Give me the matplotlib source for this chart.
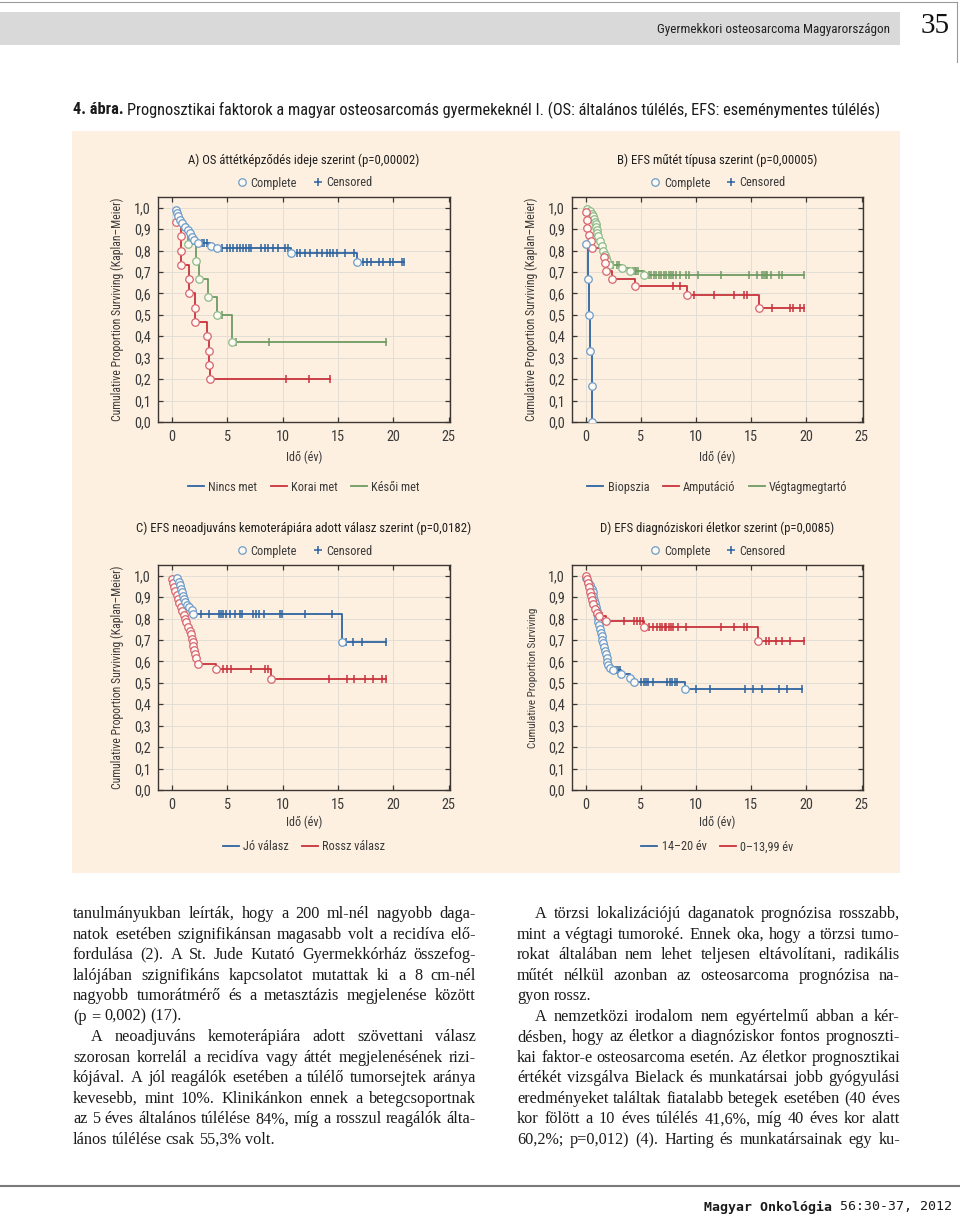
import matplotlib
matplotlib.use('Agg')
import matplotlib.pyplot as plt
import numpy as np
from matplotlib import font_manager as fm
from matplotlib.lines import Line2D
from matplotlib.patches import Rectangle
from matplotlib.ticker import FuncFormatter

# ---------------- data ----------------
xticks = [0, 5, 10, 15, 20, 25]
yticks = [0.0, 0.1, 0.2, 0.3, 0.4, 0.5, 0.6, 0.7, 0.8, 0.9, 1.0]

# A) OS by timing of metastasis
a_title = 'A) OS áttétképződés ideje szerint (p=0,00002)'
a_labels = ['Nincs met', 'Korai met', 'Késői met']
a_nincs_t = [0.4, 0.5, 0.6, 0.75, 0.95, 1.2, 1.45, 1.65, 1.85, 2.05, 2.35, 3.5, 4.05, 10.75, 16.75]
a_nincs_s = [0.99, 0.975, 0.96, 0.945, 0.93, 0.91, 0.895, 0.88, 0.865, 0.85, 0.835, 0.823, 0.812, 0.79, 0.749]
a_nincs_c = [2.7, 2.95, 3.2, 4.5, 4.95, 5.25, 5.55, 5.85, 6.15, 6.45, 6.7, 6.95, 7.2, 8.1, 8.4, 8.7, 9.1,
             9.6, 10.2, 10.5, 11.3, 11.6, 12.05, 12.5, 13.1, 13.55, 14.0, 14.3, 14.6, 14.95, 15.65,
             16.45, 17.3, 17.6, 17.95, 18.75, 19.05, 19.7, 20.0, 20.75, 20.95]
a_korai_t = [0.35, 0.84, 0.86, 0.88, 1.52, 1.54, 2.1, 2.12, 3.15, 3.38, 3.4, 3.42]
a_korai_s = [0.933, 0.867, 0.8, 0.733, 0.667, 0.6, 0.533, 0.467, 0.4, 0.333, 0.267, 0.2]
a_korai_c = [10.3, 12.4, 14.3]
a_kesoi_t = [1.15, 1.5, 2.15, 2.5, 3.3, 4.05, 5.45]
a_kesoi_s = [0.917, 0.833, 0.75, 0.667, 0.583, 0.5, 0.375]
a_kesoi_c = [4.5, 5.8, 8.8, 19.3]

# B) EFS by type of surgery
b_title = 'B) EFS műtét típusa szerint (p=0,00005)'
b_labels = ['Biopszia', 'Amputáció', 'Végtagmegtartó']
b_biop_t = [0.0, 0.25, 0.3, 0.36, 0.55, 0.6]
b_biop_s = [0.833, 0.667, 0.5, 0.333, 0.167, 0.0]
b_biop_c = []
b_amp_t = [0.0, 0.1, 0.15, 0.3, 0.45, 0.6, 1.7, 1.75, 1.8, 2.4, 4.5, 9.2, 15.7]
b_amp_s = [0.98, 0.945, 0.905, 0.875, 0.843, 0.81, 0.772, 0.74, 0.703, 0.668, 0.635, 0.594, 0.53]
b_amp_c = [7.9, 8.55, 9.85, 11.65, 13.45, 14.35, 14.65, 16.85, 18.55, 18.8, 19.45, 19.75]
b_vegt_t = [0.15, 0.4, 0.55, 0.7, 0.75, 0.85, 0.9, 0.95, 1.0, 1.05, 1.15, 1.3, 1.45, 1.6, 1.75,
            1.85, 1.95, 2.15, 3.25, 4.0, 5.3]
b_vegt_s = [0.995, 0.985, 0.972, 0.96, 0.947, 0.935, 0.922, 0.91, 0.897, 0.884, 0.87, 0.845, 0.82,
            0.8, 0.78, 0.765, 0.75, 0.733, 0.718, 0.703, 0.687]
b_vegt_c = [2.5, 2.8, 3.0, 4.3, 4.45, 4.6, 4.75, 5.75, 5.95, 6.15, 6.4, 6.65, 6.85, 7.05, 7.3, 7.55,
            7.75, 7.95, 8.2, 8.5, 9.1, 9.35, 10.2, 12.25, 14.75, 15.55, 16.0, 16.15, 16.3, 16.45,
            16.75, 17.5, 17.75, 19.75]

# C) EFS by response to neoadjuvant chemotherapy
c_title = 'C) EFS neoadjuváns kemoterápiára adott válasz szerint (p=0,0182)'
c_labels = ['Jó válasz', 'Rossz válasz']
c_jo_t = [0.5, 0.65, 0.75, 0.82, 0.9, 1.0, 1.1, 1.2, 1.4, 1.6, 1.8, 1.95, 15.35]
c_jo_s = [0.99, 0.972, 0.955, 0.94, 0.922, 0.907, 0.891, 0.876, 0.865, 0.852, 0.838, 0.82, 0.693]
c_jo_c = [2.6, 3.4, 4.3, 4.45, 4.6, 4.9, 5.25, 5.7, 6.15, 6.35, 7.35, 7.6, 7.9, 8.35, 9.8, 9.95,
          12.05, 14.45, 15.75, 16.4, 17.15, 19.35]
c_rossz_t = [0.0, 0.1, 0.2, 0.3, 0.45, 0.55, 0.65, 0.8, 0.95, 1.1, 1.2, 1.3, 1.5, 1.65, 1.75, 1.85,
             1.9, 1.95, 2.05, 2.1, 2.2, 2.4, 4.0, 8.95]
c_rossz_s = [0.985, 0.967, 0.948, 0.93, 0.911, 0.893, 0.874, 0.856, 0.837, 0.819, 0.8, 0.782, 0.763,
             0.744, 0.726, 0.707, 0.689, 0.67, 0.652, 0.633, 0.615, 0.589, 0.566, 0.52]
c_rossz_c = [4.6, 4.95, 5.35, 7.2, 8.45, 8.65, 14.2, 15.85, 16.45, 17.45, 18.15, 18.95, 19.35]

# D) EFS by age at diagnosis
d_title = 'D) EFS diagnóziskori életkor szerint (p=0,0085)'
d_labels = ['14–20 év', '0–13,99 év']
d_old_t = [0.0, 0.25, 0.4, 0.55, 0.63, 0.7, 0.76, 0.84, 0.92, 1.0, 1.05, 1.1, 1.15, 1.22, 1.28, 1.36,
           1.44, 1.52, 1.58, 1.65, 1.73, 1.82, 1.89, 1.95, 2.04, 2.2, 2.45, 3.2, 4.0, 4.35, 9.0]
d_old_s = [0.99, 0.973, 0.956, 0.939, 0.922, 0.905, 0.888, 0.871, 0.854, 0.837, 0.82, 0.803, 0.786,
           0.769, 0.752, 0.735, 0.718, 0.701, 0.684, 0.667, 0.65, 0.633, 0.616, 0.599, 0.582, 0.57,
           0.558, 0.543, 0.524, 0.505, 0.473]
d_old_c = [2.6, 2.75, 2.9, 3.1, 3.3, 5.05, 5.25, 5.45, 5.65, 6.1, 7.35, 7.6, 7.85, 8.05, 8.3, 10.0,
           11.3, 14.45, 15.2, 15.95, 17.5, 18.25, 19.6]
d_young_t = [0.0, 0.1, 0.2, 0.3, 0.4, 0.5, 0.57, 0.7, 0.85, 1.05, 1.25, 1.8, 5.25, 15.6]
d_young_s = [1.0, 0.985, 0.965, 0.946, 0.926, 0.907, 0.887, 0.868, 0.845, 0.825, 0.814, 0.787, 0.763, 0.697]
d_young_c = [1.5, 3.5, 4.4, 4.65, 4.9, 5.15, 5.75, 6.1, 6.45, 6.7, 6.95, 7.15, 7.3, 7.55, 7.75, 7.95,
             8.4, 9.1, 12.25, 13.45, 14.35, 14.65, 16.3, 16.6, 17.2, 17.8, 18.55, 19.75]

# page text
header_txt = 'Gyermekkori osteosarcoma Magyarországon'
page_no = '35'
cap_bold = '4. ábra.'
cap_rest = 'Prognosztikai faktorok a magyar osteosarcomás gyermekeknél I. (OS: általános túlélés, EFS: eseménymentes túlélés)'
left_col = [
    'tanulmányukban leírták, hogy a 200 ml-nél nagyobb daga-',
    'natok esetében szignifikánsan magasabb volt a recidíva elő-',
    'fordulása (2). A St. Jude Kutató Gyermekkórház összefog-',
    'lalójában szignifikáns kapcsolatot mutattak ki a 8 cm-nél',
    'nagyobb tumorátmérő és a metasztázis megjelenése között',
    '(p = 0,002) (17).',
    'A neoadjuváns kemoterápiára adott szövettani válasz',
    'szorosan korrelál a recidíva vagy áttét megjelenésének rizi-',
    'kójával. A jól reagálók esetében a túlélő tumorsejtek aránya',
    'kevesebb, mint 10%. Klinikánkon ennek a betegcsoportnak',
    'az 5 éves általános túlélése 84%, míg a rosszul reagálók álta-',
    'lános túlélése csak 55,3% volt.',
]
left_indent = [0, 0, 0, 0, 0, 0, 1, 0, 0, 0, 0, 0]
left_last = [0, 0, 0, 0, 0, 1, 0, 0, 0, 0, 0, 1]
right_col = [
    'A törzsi lokalizációjú daganatok prognózisa rosszabb,',
    'mint a végtagi tumoroké. Ennek oka, hogy a törzsi tumo-',
    'rokat általában nem lehet teljesen eltávolítani, radikális',
    'műtét nélkül azonban az osteosarcoma prognózisa na-',
    'gyon rossz.',
    'A nemzetközi irodalom nem egyértelmű abban a kér-',
    'désben, hogy az életkor a diagnóziskor fontos prognoszti-',
    'kai faktor-e osteosarcoma esetén. Az életkor prognosztikai',
    'értékét vizsgálva Bielack és munkatársai jobb gyógyulási',
    'eredményeket találtak fiatalabb betegek esetében (40 éves',
    'kor fölött a 10 éves túlélés 41,6%, míg 40 éves kor alatt',
    '60,2%; p=0,012) (4). Harting és munkatársainak egy ku-',
]
right_indent = [1, 0, 0, 0, 0, 1, 0, 0, 0, 0, 0, 0]
right_last = [0, 0, 0, 0, 1, 0, 0, 0, 0, 0, 0, 0]
foot_bold = 'Magyar Onkológia'
foot_rest = '56:30-37, 2012'

# ---------------- style ----------------
PANEL = '#fdf0e0'
SPINE = '#3b3631'
GRID = '#e4ddd4'
TXT = '#3a3a3a'
FILL = '#fffaf3'
BLUE, BLUE_M = '#2d64a0', '#6d9ccb'
RED, RED_M = '#c8323c', '#d8646e'
GREEN, GREEN_M = '#6f9a62', '#8cbc86'

# pick the narrowest sans that is installed
avail = fm.fontManager.ttflist
names = {f.name for f in avail}
SANS, STRETCH = 'Roboto', 'normal'
if 'Liberation Sans Narrow' in names:
    SANS = 'Liberation Sans Narrow'
elif 'Roboto Condensed' in names:
    SANS = 'Roboto Condensed'
else:
    done = False
    for want in ('condensed', 'semi-condensed'):
        for fam in ('Noto Sans', 'Open Sans', 'Roboto', 'DejaVu Sans'):
            hit = [f for f in avail if f.name == fam and str(f.stretch) in (want, 'extra-' + want)]
            if hit:
                SANS, STRETCH, done = fam, hit[0].stretch, True
                break
        if done:
            break
plt.rcParams['font.family'] = [SANS]
plt.rcParams['font.stretch'] = STRETCH
SERIF = 'Liberation Serif'

W, H = 960, 1217
fig = plt.figure(figsize=(W / 100, H / 100), dpi=100)
fig.patch.set_facecolor('white')
bg = fig.add_axes([0, 0, 1, 1], zorder=0)
bg.set_xlim(0, W)
bg.set_ylim(H, 0)
bg.axis('off')
renderer = fig.canvas.get_renderer()


def tw(s, fp):
    return renderer.get_text_width_height_descent(s, fp, ismath=False)[0]


def fit(s, target, lo, hi, **kw):
    fp = fm.FontProperties(family=kw.get('family', SANS), stretch=kw.get('stretch', STRETCH),
                           weight=kw.get('weight', 'normal'), size=10)
    return float(np.clip(10 * target / tw(s, fp), lo, hi))


# header
bg.add_patch(Rectangle((0, 12), 900, 33, color='#d9d9d9', lw=0))
bg.plot([0, 957], [2, 2], color='#9a9a9a', lw=0.8)
bg.plot([957, 957], [2, 62], color='#9a9a9a', lw=0.8)
bg.text(890, 29, header_txt, ha='right', va='center', fontsize=fit(header_txt, 236, 7.5, 9.5),
        color='#222222')
bg.text(935, 26, page_no, ha='center', va='center', fontsize=21, family=SERIF, stretch='normal',
        color='#111111')

# caption
cap_size = fit(cap_bold + ' ' + cap_rest, 807, 8.5, 12.5)
fp_cb = fm.FontProperties(family=SANS, stretch=STRETCH, weight='bold', size=cap_size)
fp_cr = fm.FontProperties(family=SANS, stretch=STRETCH, size=cap_size)
bg.text(73, 110, cap_bold, fontproperties=fp_cb, va='center', color='#1a1a1a')
sp = tw('a a', fp_cr) - tw('aa', fp_cr)
bg.text(73 + tw(cap_bold, fp_cb) + sp, 110, cap_rest, fontproperties=fp_cr, va='center', color='#1a1a1a')

# figure panel
bg.add_patch(Rectangle((72, 131), 828, 742, color=PANEL, lw=0))


def px_axes(x0, y0, x1, y1):
    return fig.add_axes([x0 / W, 1 - y1 / H, (x1 - x0) / W, (y1 - y0) / H], zorder=2)


def km(ax, t, s, c, line, mark):
    t_end = max([t[-1]] + list(c))
    ax.step(list(t) + [t_end], list(s) + [s[-1]], where='post', color=line, lw=1.3, zorder=3)
    if len(c):
        idx = np.searchsorted(t, c, side='right') - 1
        ax.plot(c, np.array(s)[idx], ls='none', marker='|', ms=6, mew=1.1, color=line, zorder=4)
    ax.plot(t, s, ls='none', marker='o', ms=5.4, mfc=FILL, mec=mark, mew=0.9, zorder=5)


def panel(box, title, title_w, ylabel, series, legend, xl_px, leg_px):
    ax = px_axes(*box)
    hpx = box[3] - box[1]
    ax.set_facecolor(PANEL)
    for sp_ in ax.spines.values():
        sp_.set_color(SPINE)
        sp_.set_linewidth(1.0)
    ax.set_xlim(-1.24, 25.12)
    ax.set_ylim(0, 1.05)
    ax.set_xticks(xticks)
    ax.set_yticks(yticks)
    ax.yaxis.set_major_formatter(FuncFormatter(lambda v, p: f'{v:.1f}'.replace('.', ',')))
    ax.tick_params(direction='in', length=3.5, width=0.9, color=SPINE, labelsize=10.3,
                   labelcolor=TXT, top=True, right=True)
    ax.tick_params(axis='y', pad=5)
    ax.tick_params(axis='x', pad=6)
    ax.grid(True, color=GRID, lw=0.7)
    ax.set_axisbelow(True)
    for t, s, c, lc, mc in series:
        km(ax, t, s, c, lc, mc)
    ax.set_ylabel(ylabel, fontsize=fit(ylabel, 223 if '(' in ylabel else 140, 7.2, 9), color=TXT)
    ax.yaxis.set_label_coords(-34 / (box[2] - box[0]), 0.5)
    ax.set_xlabel('Idő (év)', fontsize=fit('Idő (év)', 36, 8, 9.5), color=TXT)
    ax.xaxis.set_label_coords(0.5, -xl_px / hpx)
    ax.text(0.5, 1 + 37 / hpx, title, transform=ax.transAxes, ha='center', va='center',
            fontsize=fit(title, title_w * 1.06, 8.6, 10.5), color='#1f1f1f')
    lsz = fit('Complete', 46, 7.8, 9.5)
    h1 = Line2D([], [], ls='none', marker='o', ms=5.4, mfc=FILL, mec=BLUE_M, mew=0.9)
    h2 = Line2D([], [], ls='none', marker='+', ms=6, mew=1.1, color=BLUE)
    lg = ax.legend([h1, h2], ['Complete', 'Censored'], loc='center', bbox_to_anchor=(0.5, 1 + 14 / hpx),
                   ncol=2, frameon=False, fontsize=lsz, handletextpad=0.2, columnspacing=1.2,
                   handlelength=1.0, borderpad=0, labelcolor=TXT)
    ax.add_artist(lg)
    hs = [Line2D([], [], color=lc, lw=1.3) for _, lc in legend]
    ax.legend(hs, [lb for lb, _ in legend], loc='center', bbox_to_anchor=(0.5, -leg_px / hpx),
              ncol=len(hs), frameon=False, fontsize=lsz, handletextpad=0.35, columnspacing=1.1,
              handlelength=1.3, borderpad=0, labelcolor=TXT)
    return ax


YL = 'Cumulative Proportion Surviving (Kaplan–Meier)'
panel((158, 197, 450, 422), a_title, 215, YL,
      [(a_kesoi_t, a_kesoi_s, a_kesoi_c, GREEN, GREEN_M),
       (a_korai_t, a_korai_s, a_korai_c, RED, RED_M),
       (a_nincs_t, a_nincs_s, a_nincs_c, BLUE, BLUE_M)],
      list(zip(a_labels, [BLUE, RED, GREEN])), 29, 65)
panel((572, 197, 863, 422), b_title, 188, YL,
      [(b_vegt_t, b_vegt_s, b_vegt_c, GREEN, GREEN_M),
       (b_amp_t, b_amp_s, b_amp_c, RED, RED_M),
       (b_biop_t, b_biop_s, b_biop_c, BLUE, BLUE_M)],
      list(zip(b_labels, [BLUE, RED, GREEN])), 29, 65)
panel((158, 565, 450, 790), c_title, 312, YL,
      [(c_rossz_t, c_rossz_s, c_rossz_c, RED, RED_M),
       (c_jo_t, c_jo_s, c_jo_c, BLUE, BLUE_M)],
      list(zip(c_labels, [BLUE, RED])), 26, 57)
panel((572, 565, 863, 790), d_title, 220, 'Cumulative Proportion Surviving',
      [(d_old_t, d_old_s, d_old_c, BLUE, BLUE_M),
       (d_young_t, d_young_s, d_young_c, RED, RED_M)],
      list(zip(d_labels, [BLUE, RED])), 26, 57)

# body text, justified by hand
fp10 = fm.FontProperties(family=SERIF, stretch='normal', size=10)
need = []
for lines, ind, last, w in ((left_col, left_indent, left_last, 403), (right_col, right_indent, right_last, 383)):
    for line, i_, e_ in zip(lines, ind, last):
        if not e_:
            need.append(10 * (w - 18 * i_) / tw(line, fp10))
body_size = min(13.2, 0.99 * min(need))
fp_body = fm.FontProperties(family=SERIF, stretch='normal', size=body_size)
sp_body = tw('a a', fp_body) - tw('aa', fp_body)


def column(lines, indent, last, x0, x1, y0, dy=20.55):
    y = y0
    for line, ind, end in zip(lines, indent, last):
        words = line.split(' ')
        xs = x0 + (18 if ind else 0)
        widths = [tw(w, fp_body) for w in words]
        gap = sp_body if end or len(words) < 2 else (x1 - xs - sum(widths)) / (len(words) - 1)
        x = xs
        for w, wd in zip(words, widths):
            bg.text(x, y, w, fontproperties=fp_body, ha='left', va='baseline', color='#1a1a1a')
            x += wd + gap
        y += dy


column(left_col, left_indent, left_last, 73, 476, 918)
column(right_col, right_indent, right_last, 517, 900, 918)

# footer
bg.plot([0, 960], [1186, 1186], color='#7a7a7a', lw=1.5)
fp_fb = fm.FontProperties(family='DejaVu Sans Mono', weight='bold', size=9.5)
fp_fr = fm.FontProperties(family='DejaVu Sans Mono', size=9.5)
bg.text(952, 1207, foot_rest, fontproperties=fp_fr, ha='right', va='center', color='#1a1a1a')
bg.text(952 - tw(foot_rest, fp_fr) - tw('a a', fp_fr) + tw('aa', fp_fr), 1207, foot_bold,
        fontproperties=fp_fb, ha='right', va='center', color='#1a1a1a')

fig.savefig('out.png', dpi=100, facecolor='white')
